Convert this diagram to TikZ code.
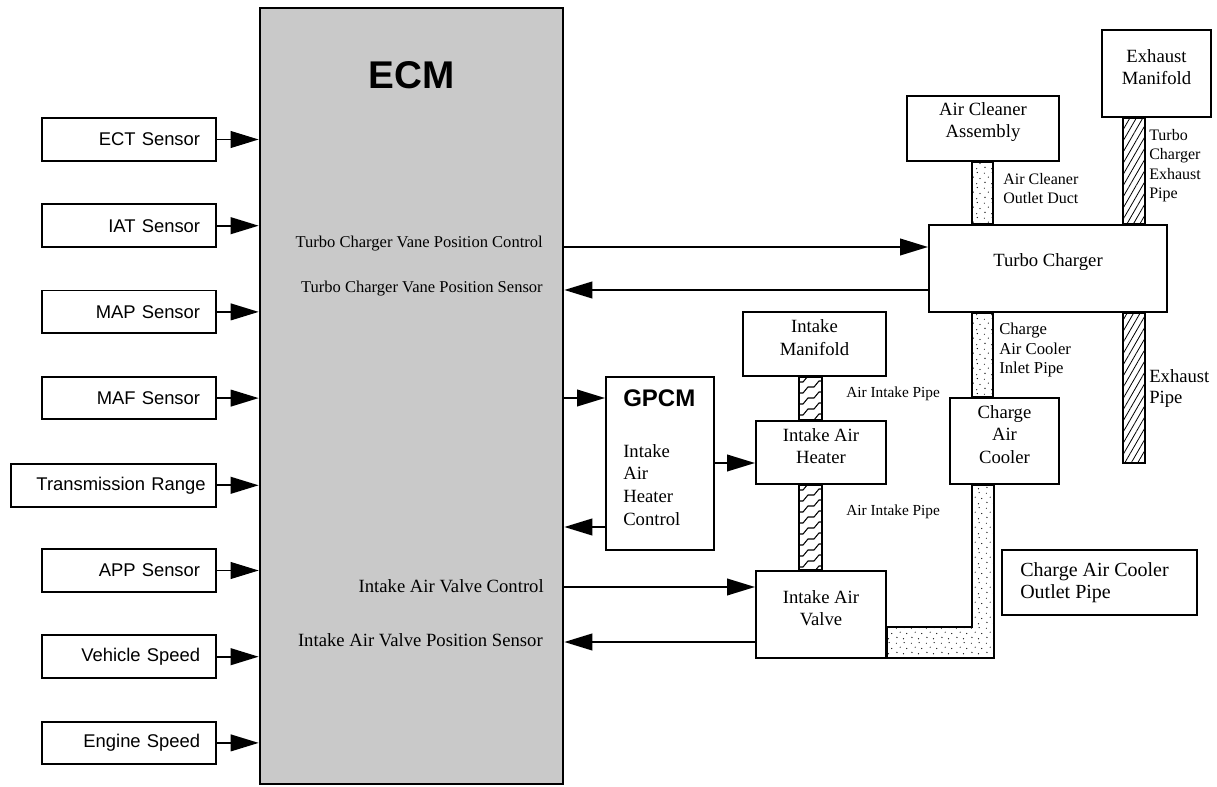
\documentclass[tikz,border=0pt]{standalone}
\usepackage{fontspec}
\setmainfont{Liberation Serif}
\newfontfamily\helvfont{Liberation Sans}
\usetikzlibrary{arrows.meta,fit,patterns,patterns.meta}

% sparse specks for the air ducts
\pgfdeclarepatternformonly{specks}{\pgfqpoint{0pt}{0pt}}{\pgfqpoint{11pt}{11pt}}{\pgfqpoint{11pt}{11pt}}{
  \pgfpathcircle{\pgfqpoint{1.5pt}{2pt}}{0.5pt}
  \pgfpathcircle{\pgfqpoint{6.5pt}{1pt}}{0.45pt}
  \pgfpathcircle{\pgfqpoint{9pt}{5pt}}{0.5pt}
  \pgfpathcircle{\pgfqpoint{4pt}{6pt}}{0.45pt}
  \pgfpathcircle{\pgfqpoint{1pt}{9pt}}{0.4pt}
  \pgfpathcircle{\pgfqpoint{7pt}{9.5pt}}{0.5pt}
  \pgfusepath{fill}
}

\tikzset{
  ecmbox/.style={draw, line width=2pt, fill=black!21, inner sep=0pt},
  sensorbox/.style={draw, line width=1.4pt, anchor=east, minimum height=32pt, align=right,
    font=\helvfont\fontsize{13.8}{16}\selectfont},
  partbox/.style={draw, line width=1.5pt, inner sep=0pt, align=center,
    font=\fontsize{14}{17}\selectfont},
  sig/.style={line width=1.4pt, -{Triangle[length=21pt,width=12.5pt]}},
  ecmlabel/.style={anchor=east, inner sep=0pt},
  pipelabel/.style={anchor=north west, inner sep=0pt, align=left},
  duct/.style={draw, line width=1.3pt, pattern=specks, pattern color=black},
  exhaust/.style={draw, line width=1.3pt, pattern={Lines[angle=60,distance=4.2pt,line width=0.6pt]}},
  wavy/.style={line width=0.8pt},
}

\begin{document}
\begin{tikzpicture}[x=0.75pt,y=0.75pt,yscale=-1,xscale=1]
\useasboundingbox (0,0) rectangle (1217,787);

%Shape: Rectangle ECM
\node [ecmbox, fit={(260,8) (563,784)}] (ecm) {};
% Text Node
\node [font=\helvfont\bfseries\fontsize{29}{34}\selectfont] (ecmtitle) at (411.5,75) {ECM};

%Sensors and their inputs
\foreach \nm/\txt/\yy/\tw/\xs in {ect/ECT Sensor/139.5/106.5pt/12pt,
    iat/IAT Sensor/225.7/106.5pt/12pt,
    map/MAP Sensor/311.9/106.5pt/12pt,
    maf/MAF Sensor/398.1/106.5pt/12pt,
    trn/Transmission Range/485.3/138pt/7.9pt,
    app/APP Sensor/570.5/106.5pt/12pt,
    vss/Vehicle Speed/656.7/106.5pt/12pt,
    rpm/Engine Speed/742.9/106.5pt/12pt}
{
  \node [sensorbox, text width=\tw, inner xsep=\xs] (\nm) at (217,\yy) {\txt};
  \draw [sig] (\nm.east) -- (\nm.east -| ecm.west);
}

% Text Node
\node [ecmlabel, font=\fontsize{12.4}{15}\selectfont] (tcvpc) at (543,244) {Turbo Charger Vane Position Control};
% Text Node
\node [ecmlabel, font=\fontsize{12.4}{15}\selectfont] (tcvps) at (543,289) {Turbo Charger Vane Position Sensor};
% Text Node
\node [ecmlabel, font=\fontsize{14}{17}\selectfont] (iavc) at (544,586) {Intake Air Valve Control};
% Text Node
\node [ecmlabel, font=\fontsize{14}{17}\selectfont] (iavps) at (543,640) {Intake Air Valve Position Sensor};

%Shape: Rectangle
\node [partbox, fit={(929,225) (1167,312)}] (tc) {Turbo Charger};
%Shape: Rectangle
\node [partbox, fit={(907,96) (1059,161)}] (acl) {Air Cleaner\\Assembly};
%Shape: Rectangle
\node [partbox, fit={(1102,30) (1211,117)}] (exm) {Exhaust\\Manifold};
%Shape: Rectangle
\node [partbox, fit={(743,312) (886,376)}] (imf) {Intake\\Manifold};
%Shape: Rectangle
\node [partbox, fit={(756,421) (886,484)}] (iah) {Intake Air\\Heater};
%Shape: Rectangle
\node [partbox, fit={(950,398) (1059,484)}] (cac) {Charge\\Air\\Cooler};
%Shape: Rectangle
\node [partbox, fit={(756,571) (886,658)}] (iav) {Intake Air\\Valve};
%Shape: Rectangle
\node [partbox, fit={(606,377) (714,550)}] (gpcm) {};
% Text Node
\node [anchor=west, inner sep=0pt, font=\helvfont\bfseries\fontsize{18}{22}\selectfont] (gpcmtitle) at (623,398) {GPCM};
% Text Node
\node [pipelabel, font=\fontsize{14}{17}\selectfont] (gpcmtext) at (623,444) {Intake\\Air\\Heater\\Control};
%Shape: Rectangle
\node [partbox, fit={(1002,550) (1197,615)}] (cacop) {};
% Text Node
\node [pipelabel, font=\fontsize{15}{17}\selectfont] (cacoptext) at (1020,562) {Charge Air Cooler\\Outlet Pipe};

%Pipes
\draw [duct] (972,0 |- acl.south) rectangle (993,0 |- tc.north);
\draw [duct] (972,0 |- tc.south) rectangle (993,0 |- cac.north);
\draw [duct] (iav.east |- 0,627) -- (972,627) -- (972,0 |- cac.south) -- (994,0 |- cac.south)
  -- (994,658) -- (iav.east |- 0,658) -- cycle;
\draw [exhaust] (1123,0 |- exm.south) rectangle (1145,0 |- tc.north);
\draw [exhaust] (1123,0 |- tc.south) rectangle (1145,463);
\begin{scope}
  \clip (799,0 |- imf.south) rectangle (822,0 |- iah.north);
  \foreach \yy in {382,393,...,437}
    \draw [wavy] (795,\yy) -- (803,\yy) -- (808,\yy-6) -- (814,\yy-6) -- (819,\yy-12) -- (827,\yy-12);
\end{scope}
\draw [line width=1.3pt] (799,0 |- imf.south) rectangle (822,0 |- iah.north);
\begin{scope}
  \clip (799,0 |- iah.south) rectangle (822,0 |- iav.north);
  \foreach \yy in {490,501,...,590}
    \draw [wavy] (795,\yy) -- (803,\yy) -- (808,\yy-6) -- (814,\yy-6) -- (819,\yy-12) -- (827,\yy-12);
\end{scope}
\draw [line width=1.3pt] (799,0 |- iah.south) rectangle (822,0 |- iav.north);

% Text Node
\node [pipelabel, font=\fontsize{12}{14.4}\selectfont] (acodlabel) at (1003,173) {Air Cleaner\\Outlet Duct};
% Text Node
\node [pipelabel, font=\fontsize{12}{14.5}\selectfont] (tceplabel) at (1149,129) {Turbo\\Charger\\Exhaust\\Pipe};
% Text Node
\node [pipelabel, font=\fontsize{12.5}{14.6}\selectfont] (caciplabel) at (999,323) {Charge\\Air Cooler\\Inlet Pipe};
% Text Node
\node [pipelabel, font=\fontsize{14}{16}\selectfont] (eplabel) at (1149,369) {Exhaust\\Pipe};
% Text Node
\node [anchor=west, inner sep=0pt, font=\fontsize{11.5}{14}\selectfont] (aiplabel) at (846,394) {Air Intake Pipe};
% Text Node
\node [anchor=west, inner sep=0pt, font=\fontsize{11.5}{14}\selectfont] (aiplabeltwo) at (846,512) {Air Intake Pipe};

%Straight Lines
\draw [sig] (ecm.east |- 0,247) -- (tc.west |- 0,247);
\draw [sig] (tc.west |- 0,290) -- (ecm.east |- 0,290);
\draw [sig] (ecm.east |- 0,398) -- (gpcm.west |- 0,398);
\draw [sig] (gpcm.west |- 0,527) -- (ecm.east |- 0,527);
\draw [sig] (gpcm.east |- 0,463) -- (iah.west |- 0,463);
\draw [sig] (ecm.east |- 0,587) -- (iav.west |- 0,587);
\draw [sig] (iav.west |- 0,642) -- (ecm.east |- 0,642);

\end{tikzpicture}
\end{document}
